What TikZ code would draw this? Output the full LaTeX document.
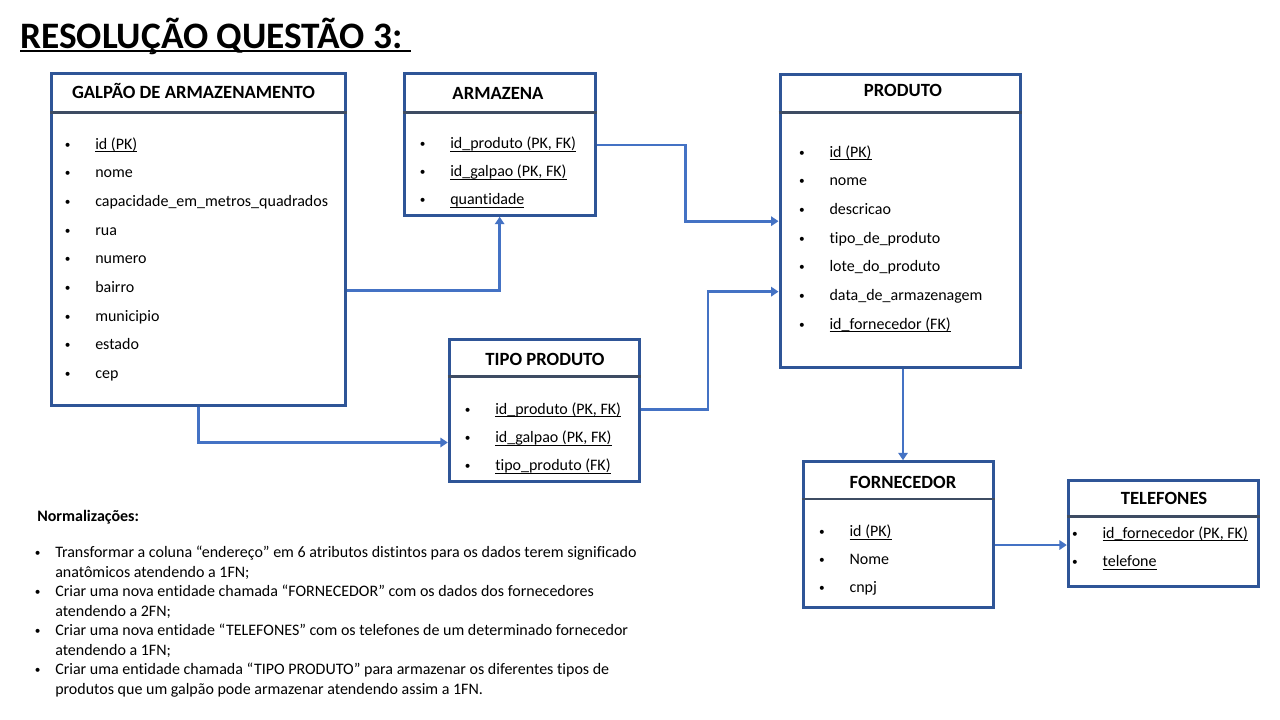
\documentclass[tikz,border=0pt]{standalone}
\usepackage{fontspec}
\setmainfont{Carlito}[Ligatures=NoCommon]
\usetikzlibrary{arrows.meta, positioning, fit}

\definecolor{boxblue}{HTML}{2F5597}
\definecolor{linkblue}{HTML}{4472C4}
\definecolor{sepgray}{HTML}{3E4C63}

\newsavebox{\ubox}
\newcommand{\uatt}[1]{\sbox{\ubox}{#1}\rlap{\rule[-2.3pt]{\wd\ubox}{0.8pt}}\usebox{\ubox}}
\newcommand{\uttl}[1]{\sbox{\ubox}{#1}\rlap{\rule[-3.1pt]{\wd\ubox}{1.8pt}}\usebox{\ubox}}
\newcommand{\dotmark}{\raisebox{0.9pt}{\fontsize{8.5}{9}\selectfont •}}
\newcommand{\blt}{\llap{\dotmark\hspace{18.6pt}}}
\newcommand{\nblt}{\llap{\dotmark\hspace{11pt}}}

\begin{document}
\begin{tikzpicture}[x=0.75pt, y=-0.75pt, >={Triangle[length=5.5pt, width=7pt]},
      tbl/.style={draw=boxblue, line width=2.25pt, inner sep=0pt},
      sepline/.style={draw=sepgray, line width=2pt},
      hdr/.style={font=\bfseries\fontsize{14}{17}\selectfont, anchor=base, inner sep=0pt},
      attr/.style={font=\fontsize{12}{14}\selectfont, anchor=base west, inner sep=0pt},
      note/.style={font=\fontsize{12}{14.6}\selectfont, align=left, anchor=base west, inner sep=0pt},
      link/.style={draw=linkblue, line width=2pt, ->}]

    \fill[white] (0,0) rectangle (1280,720);
    \useasboundingbox (0,0) rectangle (1280,720);

    % === Title ===
    \node[font=\bfseries\fontsize{28}{34}\selectfont, anchor=base west, inner sep=0pt] (title) at (20,48.3)
      {\uttl{RESOLUÇÃO QUESTÃO 3:\ }};

    % === GALPAO DE ARMAZENAMENTO ===
    \node[tbl, fit={(51.7,74) (345,405)}] (galpao) {};
    \draw[sepline] (galpao.west |- 0,112.3) -- (galpao.east |- 0,112.3);
    \node[hdr] (galpao-t) at (193.5,99) {GALPÃO DE ARMAZENAMENTO};
    \foreach \fld [count=\i] in {\uatt{id (PK)}, nome, capacidade\_em\_metros\_quadrados, rua, numero, bairro, municipio, estado, cep}
      \node[attr] (galpao-\i) at (95,{149.3+28.65*(\i-1)}) {\blt\fld};

    % === ARMAZENA ===
    \node[tbl, fit={(404.3,74) (595,215.3)}] (armazena) {};
    \draw[sepline] (armazena.west |- 0,112.3) -- (armazena.east |- 0,112.3);
    \node[hdr] (armazena-t) at (498,100) {ARMAZENA};
    \foreach \fld [count=\i] in {{\uatt{id\_produto (PK, FK)}}, {\uatt{id\_galpao (PK, FK)}}, \uatt{quantidade}}
      \node[attr] (armazena-\i) at (450,{149+28*(\i-1)}) {\blt\fld};

    % === PRODUTO ===
    \node[tbl, fit={(780,74.7) (1020.7,367.7)}] (produto) {};
    \draw[sepline] (produto.west |- 0,112.3) -- (produto.east |- 0,112.3);
    \node[hdr] (produto-t) at (903,97) {PRODUTO};
    \foreach \fld [count=\i] in {\uatt{id (PK)}, nome, descricao, tipo\_de\_produto, lote\_do\_produto, data\_de\_armazenagem, \uatt{id\_fornecedor (FK)}}
      \node[attr] (produto-\i) at (829.3,{157.3+28.67*(\i-1)}) {\blt\fld};

    % === TIPO PRODUTO ===
    \node[tbl, fit={(449.3,339) (639.3,481)}] (tipo) {};
    \draw[sepline] (tipo.west |- 0,376.7) -- (tipo.east |- 0,376.7);
    \node[hdr] (tipo-t) at (545,365) {TIPO PRODUTO};
    \foreach \fld [count=\i] in {{\uatt{id\_produto (PK, FK)}}, {\uatt{id\_galpao (PK, FK)}}, \uatt{tipo\_produto (FK)}}
      \node[attr] (tipo-\i) at (495,{414.3+28.2*(\i-1)}) {\blt\fld};

    % === FORNECEDOR ===
    \node[tbl, fit={(803.3,461.7) (993.3,607)}] (fornecedor) {};
    \draw[sepline] (fornecedor.west |- 0,499) -- (fornecedor.east |- 0,499);
    \node[hdr] (fornecedor-t) at (903,488) {FORNECEDOR};
    \foreach \fld [count=\i] in {\uatt{id (PK)}, Nome, cnpj}
      \node[attr] (fornecedor-\i) at (849.3,{536.7+28*(\i-1)}) {\blt\fld};

    % === TELEFONES ===
    \node[tbl, fit={(1068.3,480) (1258.3,586)}] (telefones) {};
    \draw[sepline] (telefones.west |- 0,516.7) -- (telefones.east |- 0,516.7);
    \node[hdr] (telefones-t) at (1164,504) {TELEFONES};
    \foreach \fld [count=\i] in {{\uatt{id\_fornecedor (PK, FK)}}, \uatt{telefone}}
      \node[attr] (telefones-\i) at (1102.3,{538.3+28.4*(\i-1)}) {\blt\fld};

    % === Connectors ===
    \draw[link] ([yshift=1.5pt]galpao.east |- galpao-6.base) -| (armazena.south);
    \draw[link] ([yshift=3pt]armazena.east |- armazena-1.base) -| ([xshift=-70pt]produto.west) -- (produto.west);
    \draw[link] (galpao.south) |- (tipo.west |- tipo-2.base);
    \draw[link] ([yshift=3.75pt]tipo.east |- tipo-1.base) -| ([xshift=-53pt, yshift=6.75pt]produto.west |- produto-6.base)
      -- ([yshift=6.75pt]produto.west |- produto-6.base);
    \draw[link] (produto.south -| fornecedor-t) -- (fornecedor.north -| fornecedor-t);
    \draw[link] ([yshift=-8pt]fornecedor.east) -- ([yshift=-8pt]fornecedor.east -| telefones.west);

    % === Normalizacoes ===
    \node[note, font=\bfseries\fontsize{12}{14.6}\selectfont] (norm-t) at (37,521) {Normalizações:};
    \node[note] (norm-1) at (55,577) {\nblt Transformar a coluna “endereço” em 6 atributos distintos para os dados terem significado\\anatômicos atendendo a 1FN;};
    \node[note] (norm-2) at (55,616) {\nblt Criar uma nova entidade chamada “FORNECEDOR” com os dados dos fornecedores\\atendendo a 2FN;};
    \node[note] (norm-3) at (55,655) {\nblt Criar uma nova entidade “TELEFONES” com os telefones de um determinado fornecedor\\atendendo a 1FN;};
    \node[note] (norm-4) at (55,694) {\nblt Criar uma entidade chamada “TIPO PRODUTO” para armazenar os diferentes tipos de\\produtos que um galpão pode armazenar atendendo assim a 1FN.};

\end{tikzpicture}
\end{document}
